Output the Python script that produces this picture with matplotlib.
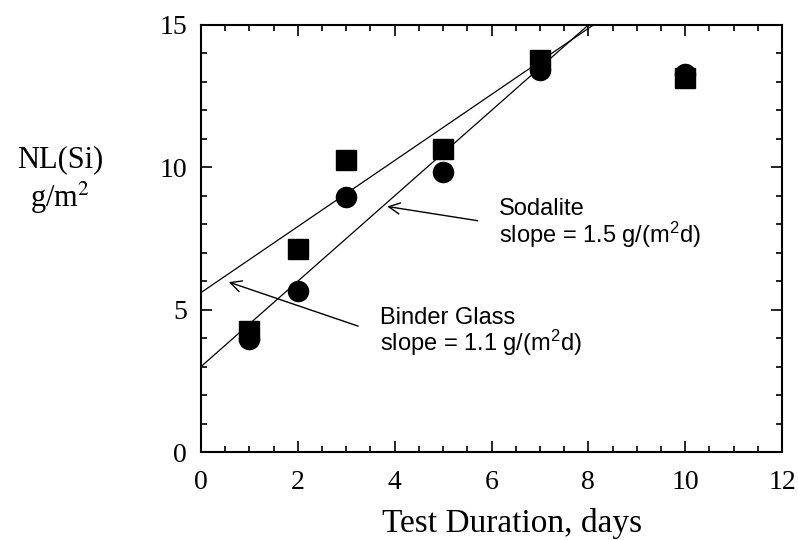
import matplotlib.pyplot as plt
from matplotlib.ticker import MultipleLocator

# data
days = [1, 2, 3, 5, 7, 10]
nl_square = [4.25, 7.13, 10.26, 10.64, 13.77, 13.15]
nl_circle = [3.97, 5.67, 8.96, 9.83, 13.42, 13.28]

# fit lines (intercept, slope)
sodalite_fit = (3.0, 1.5)
binder_fit = (5.6, 1.16)
fit_x = [0, 12]

plt.rcParams['font.family'] = ['Liberation Serif', 'DejaVu Serif']
plt.rcParams['mathtext.fontset'] = 'custom'
plt.rcParams['mathtext.rm'] = 'Liberation Sans'
plt.rcParams['mathtext.it'] = 'Liberation Sans'

fig = plt.figure(figsize=(7.98, 5.40), dpi=100)
ax = fig.add_axes([201 / 798, 1 - 452 / 540, (782 - 201) / 798, (452 - 25) / 540])

for b, m in [sodalite_fit, binder_fit]:
    ax.plot(fit_x, [b + m * x for x in fit_x], color='black', lw=0.9, zorder=2)

ax.plot(days, nl_circle, 'o', color='black', ms=14.5, zorder=3)
ax.plot(days, nl_square, 's', color='black', ms=14, zorder=3)

ax.set_xlim(0, 12)
ax.set_ylim(0, 15)
ax.xaxis.set_major_locator(MultipleLocator(2))
ax.xaxis.set_minor_locator(MultipleLocator(0.5))
ax.yaxis.set_major_locator(MultipleLocator(5))
ax.yaxis.set_minor_locator(MultipleLocator(1))
ax.tick_params(which='both', direction='in', top=True, right=True, width=1.2)
ax.tick_params(which='major', length=8, labelsize=20)
ax.tick_params(which='minor', length=4.5)
ax.tick_params(axis='x', which='major', pad=13)
ax.tick_params(axis='y', which='major', pad=10)
for s in ax.spines.values():
    s.set_linewidth(1.5)

sans = ['Liberation Sans', 'DejaVu Sans']
ax.text(6.16, 8.32, 'Sodalite', fontsize=17, family=sans, va='baseline')
ax.text(6.16, 7.34, r'slope = 1.5 g/(m$^2$d)', fontsize=17, family=sans, va='baseline')
ax.annotate('', xy=(3.79, 8.64), xytext=(5.77, 8.11),
            arrowprops=dict(arrowstyle='->', color='black', lw=1, mutation_scale=20))

ax.text(3.69, 4.50, 'Binder Glass', fontsize=17, family=sans, va='baseline')
ax.text(3.69, 3.55, r'slope = 1.1 g/(m$^2$d)', fontsize=17, family=sans, va='baseline')
ax.annotate('', xy=(0.52, 6.0), xytext=(3.30, 4.39),
            arrowprops=dict(arrowstyle='->', color='black', lw=1, mutation_scale=20))

fig.text(60 / 798, 1 - 167 / 540, 'NL(Si)', fontsize=22, ha='center', va='baseline')
fig.text(60 / 798, 1 - 207 / 540, r'g/m$^2$', fontsize=22, ha='center', va='baseline',
         math_fontfamily='stix')
fig.text(512 / 798, 1 - 532 / 540, 'Test Duration, days', fontsize=24, ha='center', va='baseline')

fig.savefig('out.png', dpi=100)
